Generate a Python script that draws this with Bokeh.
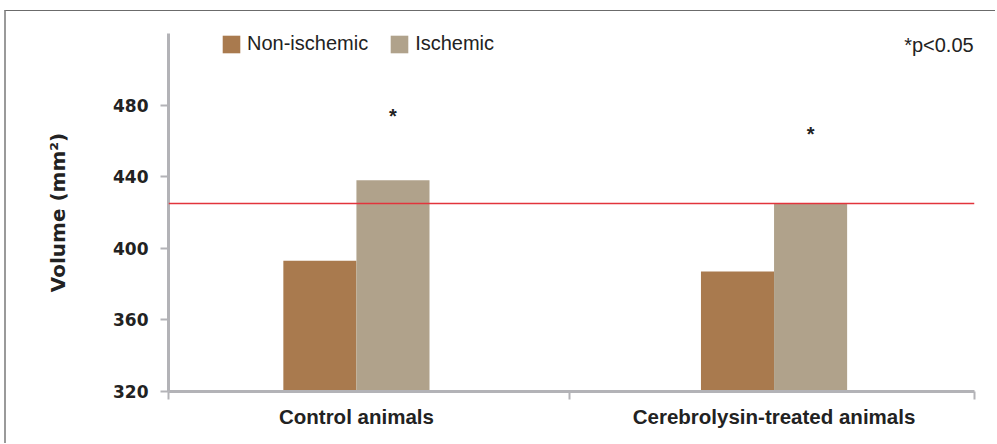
from bokeh.plotting import figure
from bokeh.models import (Range1d, FixedTicker, Span, Label, Legend, LegendItem,
                          ColumnDataSource)
from bokeh.embed import file_html
from bokeh.resources import INLINE
import numpy as np

# ---- data ----
categories = ["Control animals", "Cerebrolysin-treated animals"]
series = ["Non-ischemic", "Ischemic"]
non_ischemic = [393, 387]
ischemic = [438, 425]
sig_marker_y = [474, 464]          # where the "*" marks sit
reference_value = 425              # red horizontal reference line
y_ticks = [320, 360, 400, 440, 480]

colors = ["#A97A4E", "#B0A28B"]

centers = np.arange(len(categories)) + 0.5
bar_w = 0.175

p = figure(width=991, height=433, output_backend="svg", toolbar_location=None,
           x_range=Range1d(0.05, 1.98), y_range=Range1d(320, 520),
           min_border_left=162, min_border_right=23, min_border_top=22,
           min_border_bottom=53)
p.styles = {"border-top": "1px solid #6b6b6b", "border-left": "2px solid #9a9a9a",
            "margin-top": "10px", "margin-left": "4px"}
p.outline_line_color = None
p.grid.grid_line_color = None
p.background_fill_color = "white"

src1 = ColumnDataSource(dict(x=centers - bar_w / 2, top=non_ischemic))
src2 = ColumnDataSource(dict(x=centers + bar_w / 2, top=ischemic))
r1 = p.vbar(x="x", top="top", bottom=320, width=bar_w, source=src1,
            fill_color=colors[0], line_color=None)
r2 = p.vbar(x="x", top="top", bottom=320, width=bar_w, source=src2,
            fill_color=colors[1], line_color=None)

# reference line
p.add_layout(Span(location=reference_value, dimension="width",
                  line_color="#E2343C", line_width=1.5))

# significance stars
for cx, sy in zip(centers + bar_w / 2, sig_marker_y):
    p.add_layout(Label(x=cx, y=sy, text="*", text_align="center",
                       text_baseline="alphabetic", text_font="Liberation Sans",
                       text_font_style="bold", text_font_size="20px",
                       text_color="#222222"))

p.add_layout(Label(x=1.978, y=513.5, text="*p<0.05", text_align="right",
                   text_baseline="alphabetic", text_font="Liberation Sans",
                   text_font_size="20px", text_color="#222222"))

# legend
legend = Legend(items=[LegendItem(label=series[0], renderers=[r1]),
                       LegendItem(label=series[1], renderers=[r2])],
                orientation="horizontal", location=(52, 336))
legend.border_line_color = None
legend.background_fill_alpha = 0
legend.padding = 0
legend.margin = 0
legend.spacing = 20
legend.label_standoff = 5
legend.glyph_width = 22
legend.glyph_height = 22
legend.label_height = 22
legend.label_text_font = "Liberation Sans"
legend.label_text_font_size = "20px"
legend.label_text_color = "#222222"
p.add_layout(legend)

# y axis
ya = p.yaxis[0]
ya.ticker = FixedTicker(ticks=y_ticks)
ya.axis_line_color = "#B3B3B7"
ya.axis_line_width = 3
ya.major_tick_line_color = "#B3B3B7"
ya.major_tick_line_width = 2
ya.major_tick_out = 8
ya.major_tick_in = 0
ya.minor_tick_line_color = None
ya.major_label_text_font = "DejaVu Sans"
ya.major_label_text_font_style = "bold"
ya.major_label_text_font_size = "17px"
ya.major_label_text_color = "#222222"
ya.major_label_standoff = 12
ya.axis_label = "Volume (mm²)"
ya.axis_label_text_font = "DejaVu Sans"
ya.axis_label_text_font_style = "bold"
ya.axis_label_text_font_size = "20px"
ya.axis_label_text_color = "#222222"
ya.axis_label_standoff = 40

# x axis
xa = p.xaxis[0]
xa.ticker = FixedTicker(ticks=list(centers), minor_ticks=[0.05, 1.01, 1.98])
xa.major_label_overrides = {float(c): lab for c, lab in zip(centers, categories)}
xa.axis_line_color = "#B3B3B7"
xa.axis_line_width = 3
xa.major_tick_line_color = None
xa.major_tick_out = 0
xa.major_tick_in = 0
xa.minor_tick_line_color = "#B3B3B7"
xa.minor_tick_line_width = 2
xa.minor_tick_out = 8
xa.minor_tick_in = 0
xa.major_label_text_font = "Liberation Sans"
xa.major_label_text_font_style = "bold"
xa.major_label_text_font_size = "20.5px"
xa.major_label_text_color = "#222222"
xa.major_label_standoff = 5

open("out.html", "w").write(file_html(p, INLINE))
